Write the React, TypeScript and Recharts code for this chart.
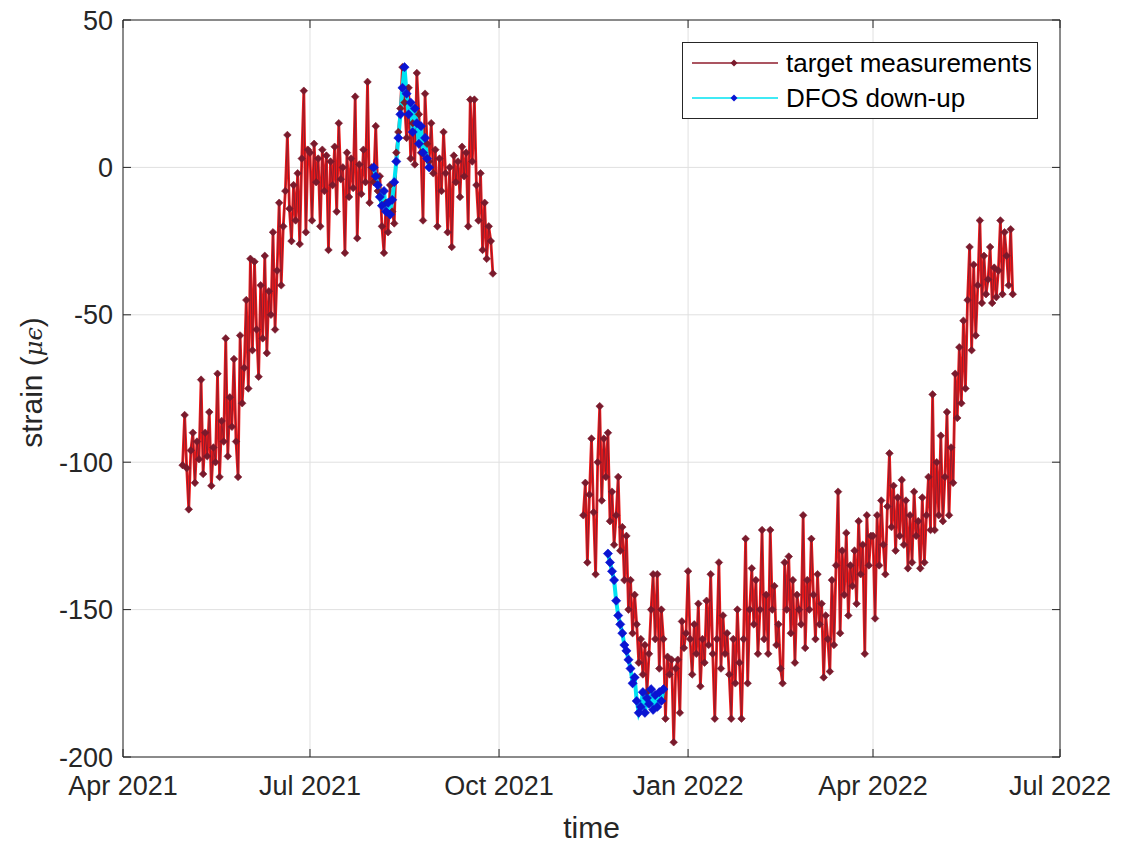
import React from 'react';
import { LineChart, Line, XAxis, YAxis, CartesianGrid, Legend } from 'recharts';

// ---- axis ticks ----
const xTickDates = ['2021-04-01', '2021-07-01', '2021-10-01', '2022-01-01', '2022-04-01', '2022-07-01'];
const xTickLabels = ['Apr 2021', 'Jul 2021', 'Oct 2021', 'Jan 2022', 'Apr 2022', 'Jul 2022'];
const yTicks = [-200, -150, -100, -50, 0, 50];

// ---- target measurements (daily strain, µε) ----
const targetStartA = '2021-04-30';
const targetValuesA = [
  -101,
  // May 2021
  -84, -102, -116, -96, -90, -107, -93, -99, -72, -104, -90, -98, -83, -108, -95, -100,
  -70, -105, -86, -93, -58, -98, -78, -88, -65, -93, -105, -57, -80, -68, -45,
  // Jun 2021
  -75, -31, -62, -32, -55, -71, -40, -58, -30, -63, -42, -50, -22, -55, -35, -12,
  -40, -20, -8, 11, -14, -25, -6, -18, -2, -26, 3, 26, -22, 6,
  // Jul 2021
  5, -18, 8, -5, 3, -20, 6, -8, 4, -28, 2, -6, 7, -15, 15, -4,
  0, -29, 5, -10, 3, -7, 24, -24, 1, -9, 6, -5, 29, -12, 0,
  // Aug 2021
  -5, 14, -8, -3, -20, -29, -12, -22, -6, -15, -19, 5, 12, 20, 34, 22,
  10, 27, 3, 15, 1, 32, 18, 5, -18, 25, 8, 2, 15, -2, 6,
  // Sep 2021
  -20, 3, -8, 12, -2, -22, 0, -27, 4, -5, 2, -10, 7, -3, 5, -20,
  23, 2, 23, -6, -18, -2, -28, -12, -31, -20, -25, -36,
];

const targetStartB = '2021-11-11';
const targetValuesB = [
  // Nov 2021
  -118, -107, -134, -111, -92, -117, -138, -100, -81, -113, -92, -105, -90, -120, -110, -128,
  -118, -105, -130, -122,
  // Dec 2021
  -140, -125, -150, -140, -158, -145, -155, -168, -160, -172, -162, -178, -165, -150, -138, -160,
  -138, -170, -150, -160, -187, -166, -172, -167, -195, -170, -167, -185, -154, -163, -158,
  // Jan 2022
  -137, -160, -172, -155, -165, -148, -176, -160, -168, -147, -162, -138, -165, -187, -160, -134,
  -170, -152, -165, -158, -172, -187, -160, -175, -150, -168, -187, -160, -126, -175, -150,
  // Feb 2022
  -136, -155, -140, -165, -150, -123, -160, -145, -165, -123, -150, -142, -162, -155, -170, -175,
  -134, -150, -132, -158, -140, -168, -145, -150, -155, -118, -163, -140,
  // Mar 2022
  -150, -126, -145, -160, -138, -155, -148, -173, -152, -160, -171, -140, -162, -135, -110, -158,
  -130, -145, -124, -152, -135, -142, -130, -148, -120, -138, -128, -165, -118, -135, -125,
  // Apr 2022
  -125, -153, -118, -135, -113, -128, -138, -115, -97, -122, -108, -130, -112, -125, -106, -128,
  -113, -136, -118, -134, -110, -125, -120, -136, -112, -134, -118, -105, -123, -77,
  // May 2022
  -123, -100, -118, -91, -120, -105, -83, -118, -95, -107, -70, -85, -61, -80, -52, -75,
  -45, -27, -62, -33, -57, -40, -18, -46, -30, -43, -38, -27, -46, -34, -44,
  // Jun 2022
  -35, -18, -43, -22, -30, -40, -21, -43,
];

// ---- DFOS down-up (daily strain, µε) ----
const dfosStartA = '2021-08-01';
const dfosValuesA = [
  0, -3, -6, -10, -13, -8, -15, -12, -16, -11, -5, 2, 10, 18, 27, 34,
  25, 18, 22, 12, 20, 15, 8, 14, 5, 10, 3, 0,
];

const dfosStartB = '2021-11-23';
const dfosValuesB = [
  -131, -134, -137, -140, -147, -152, -155, -158, -162, -164, -167, -170, -175, -173, -181, -185,
  -183, -178, -185, -180, -182, -177, -184, -179, -183, -178, -181, -177,
];

// ---- styling ----
const FONT = '"Liberation Sans", Arial, Helvetica, sans-serif';
const INK = '#262626';
const GRID = '#e0e0e0';
const TARGET_FILL = '#f01818';
const TARGET_LINE = '#8f1d2d';
const TARGET_MARK = '#7a1a2c';
const DFOS_LINE = '#00e3f2';
const DFOS_MARK = '#0a14d2';

const DAY_MS = 86400000;
const toTime = (iso: string) => Date.parse(iso + 'T00:00:00Z');
const buildSeries = (start: string, values: number[]) => {
  const t0 = toTime(start);
  return values.map((v, i) => ({ t: t0 + i * DAY_MS, v }));
};

const targetA = buildSeries(targetStartA, targetValuesA);
const targetB = buildSeries(targetStartB, targetValuesB);
const dfosA = buildSeries(dfosStartA, dfosValuesA);
const dfosB = buildSeries(dfosStartB, dfosValuesB);

const xTicks = xTickDates.map(toTime);
const xDomain: [number, number] = [xTicks[0], xTicks[xTicks.length - 1]];
const formatX = (t: number) => xTickLabels[xTicks.indexOf(t)] ?? '';
const blank = () => '';

const legendItems = [
  { name: 'target measurements', line: TARGET_LINE, mark: TARGET_MARK },
  { name: 'DFOS down-up', line: DFOS_LINE, mark: DFOS_MARK },
];

const diamondPath = (cx: number, cy: number, r: number) =>
  `M${cx},${cy - r}L${cx + r},${cy}L${cx},${cy + r}L${cx - r},${cy}Z`;

const diamond = (fill: string, r: number) => (p: any) => {
  const { cx, cy, index } = p;
  if (cx == null || cy == null) return <g key={`e${index}`} />;
  return <path key={`d${index}`} d={diamondPath(cx, cy, r)} fill={fill} stroke={fill} strokeWidth={0.6} />;
};

const LegendBox = () => (
  <div
    style={{
      position: 'relative',
      width: 356,
      height: 77,
      border: `1px solid ${INK}`,
      background: '#fff',
      boxSizing: 'border-box',
      fontFamily: FONT,
      fontSize: 26,
      color: '#000',
    }}
  >
    {legendItems.map((it, i) => (
      <div
        key={it.name}
        style={{ position: 'absolute', left: 0, top: 4 + i * 35, height: 32, display: 'flex', alignItems: 'center' }}
      >
        <svg width={100} height={32} style={{ display: 'block' }}>
          <line x1={9} x2={95} y1={16} y2={16} stroke={it.line} strokeWidth={1.5} />
          <path d={diamondPath(51, 16, 3.5)} fill={it.mark} />
        </svg>
        <span style={{ marginLeft: 3, lineHeight: '32px', whiteSpace: 'nowrap' }}>{it.name}</span>
      </div>
    ))}
  </div>
);

const XLabel = (props: any) => {
  const vb = props.viewBox || { x: 123, y: 757, width: 937 };
  return (
    <text x={vb.x + vb.width / 2} y={vb.y + 81} textAnchor="middle" fill={INK} fontSize={30} fontFamily={FONT}>
      time
    </text>
  );
};

const YLabel = (props: any) => {
  const vb = props.viewBox || { x: 43, y: 20, height: 737 };
  const cy = vb.y + vb.height / 2 - 6;
  return (
    <text
      transform={`translate(42, ${cy}) rotate(-90)`}
      textAnchor="middle"
      fill={INK}
      fontSize={30}
      fontFamily={FONT}
    >
      <tspan>strain (</tspan>
      <tspan fontFamily='"DejaVu Serif", serif' fontStyle="italic" fontSize={24}>
        μϵ
      </tspan>
      <tspan>)</tspan>
    </text>
  );
};

const tickStyle = { fill: INK, fontSize: 27, fontFamily: FONT };

export default function App() {
  return (
    <div style={{ position: 'absolute', left: 0, top: 0, width: 1127, height: 850, background: '#fff' }}>
      <LineChart width={1127} height={850} margin={{ top: 19, right: 66, bottom: 33, left: 43 }}>
        <CartesianGrid xAxisId="b" yAxisId="l" stroke={GRID} strokeWidth={1} />
        <XAxis
          xAxisId="b"
          dataKey="t"
          type="number"
          domain={xDomain}
          ticks={xTicks}
          interval={0}
          allowDataOverflow
          tickFormatter={formatX}
          height={60}
          tickSize={-8}
          tickMargin={27}
          axisLine={{ stroke: INK }}
          tickLine={{ stroke: INK }}
          tick={tickStyle}
          label={{ content: XLabel }}
        />
        <XAxis
          xAxisId="t"
          orientation="top"
          dataKey="t"
          type="number"
          domain={xDomain}
          ticks={xTicks}
          interval={0}
          allowDataOverflow
          tickFormatter={blank}
          height={1}
          tickSize={-8}
          axisLine={{ stroke: INK }}
          tickLine={{ stroke: INK }}
        />
        <YAxis
          yAxisId="l"
          type="number"
          domain={[-200, 50]}
          ticks={yTicks}
          interval={0}
          allowDataOverflow
          width={80}
          tickSize={-8}
          tickMargin={18}
          axisLine={{ stroke: INK }}
          tickLine={{ stroke: INK }}
          tick={tickStyle}
          label={{ content: YLabel }}
        />
        <YAxis
          yAxisId="r"
          orientation="right"
          type="number"
          domain={[-200, 50]}
          ticks={yTicks}
          interval={0}
          allowDataOverflow
          width={1}
          tickSize={-8}
          tickFormatter={blank}
          axisLine={{ stroke: INK }}
          tickLine={{ stroke: INK }}
        />

        {[targetA, targetB].map((seg, i) => (
          <Line
            key={`tf${i}`}
            xAxisId="b"
            yAxisId="l"
            data={seg}
            dataKey="v"
            type="linear"
            stroke={TARGET_FILL}
            strokeWidth={2.8}
            dot={false}
            activeDot={false}
            legendType="none"
            isAnimationActive={false}
          />
        ))}
        {[targetA, targetB].map((seg, i) => (
          <Line
            key={`tl${i}`}
            xAxisId="b"
            yAxisId="l"
            data={seg}
            dataKey="v"
            name="target measurements"
            type="linear"
            stroke={TARGET_LINE}
            strokeWidth={1}
            dot={diamond(TARGET_MARK, 3.8)}
            activeDot={false}
            legendType={i === 0 ? 'line' : 'none'}
            isAnimationActive={false}
          />
        ))}
        {[dfosA, dfosB].map((seg, i) => (
          <Line
            key={`df${i}`}
            xAxisId="b"
            yAxisId="l"
            data={seg}
            dataKey="v"
            name="DFOS down-up"
            type="linear"
            stroke={DFOS_LINE}
            strokeWidth={4}
            dot={diamond(DFOS_MARK, 4.6)}
            activeDot={false}
            legendType={i === 0 ? 'line' : 'none'}
            isAnimationActive={false}
          />
        ))}

        <Legend
          layout="horizontal"
          verticalAlign="middle"
          align="center"
          wrapperStyle={{ position: 'absolute', left: 682, top: 42, width: 356, height: 77 }}
          content={() => <LegendBox />}
        />
      </LineChart>
    </div>
  );
}
